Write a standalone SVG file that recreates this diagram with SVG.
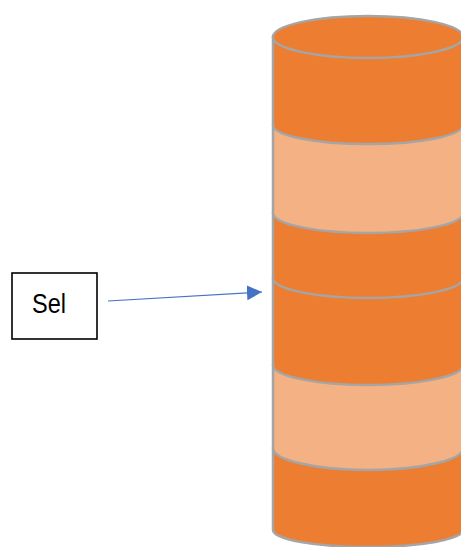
<svg xmlns="http://www.w3.org/2000/svg" width="461" height="547" viewBox="0 0 461 547">
<style>
.dark{fill:#ED7D31;stroke:#A5A5A5;stroke-width:2.5}
.light{fill:#F4B183;stroke:#A5A5A5;stroke-width:2.5}
.top{fill:#ED7D31;stroke:#A5A5A5;stroke-width:2.5}
.box{fill:#FFFFFF;stroke:#000000;stroke-width:1.6}
.lbl{font-family:"Liberation Sans","Open Sans",Arial,sans-serif;font-size:27px;fill:#000000}
.conn{stroke:#4472C4;stroke-width:1.2;fill:none}
</style>
<defs>
<marker id="ah" markerWidth="16" markerHeight="16" refX="15" refY="7.5" orient="auto" markerUnits="userSpaceOnUse">
<path d="M0,0 L15,7.5 L0,15 Z" fill="#4472C4"/>
</marker>
</defs>
<g id="cylinder">
<g id="layer6"><path class="dark" d="M273,448 A95,20 0 0 1 463,448 L463,530 A95,17 0 0 1 273,530 Z"/></g>
<g id="layer5"><path class="light" d="M273,365 A95,20 0 0 1 463,365 L463,448 A95,22 0 0 1 273,448 Z"/></g>
<g id="layer4"><path class="dark" d="M273,278 A95,20 0 0 1 463,278 L463,365 A95,20 0 0 1 273,365 Z"/></g>
<g id="layer3"><path class="dark" d="M273,213 A95,20 0 0 1 463,213 L463,278 A95,20 0 0 1 273,278 Z"/></g>
<g id="layer2"><path class="light" d="M273,125 A95,20 0 0 1 463,125 L463,213 A95,20 0 0 1 273,213 Z"/></g>
<g id="layer1"><path class="dark" d="M273,37 L273,125 A95,19 0 0 0 463,125 L463,37 Z"/><ellipse class="top" cx="368" cy="37" rx="95" ry="21"/></g>
</g>
<g id="sel">
<rect class="box" x="12" y="273" width="85" height="66"/>
<text class="lbl" x="32" y="313" textLength="34" lengthAdjust="spacingAndGlyphs">Sel</text>
</g>
<g id="connectors">
<line class="conn" x1="108" y1="301" x2="262" y2="292" marker-end="url(#ah)"/>
</g>
</svg>
